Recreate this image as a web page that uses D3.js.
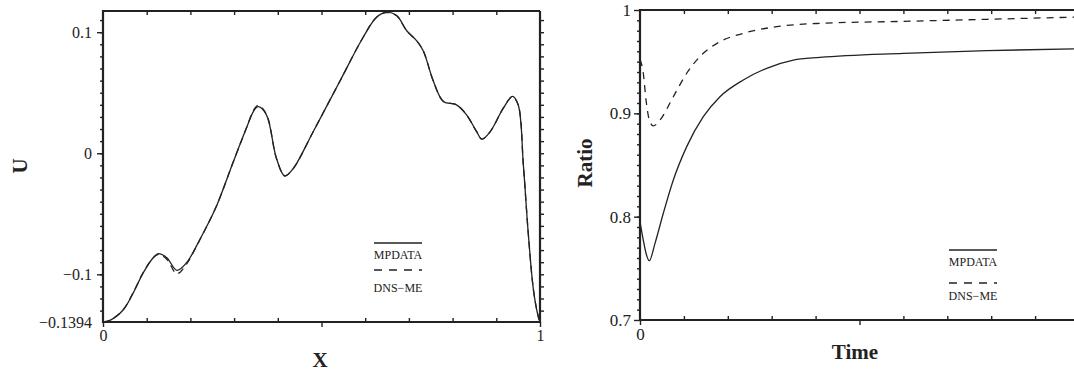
<!DOCTYPE html>
<html><head><meta charset="utf-8">
<script src="https://cdn.jsdelivr.net/npm/d3@7"></script>
<style>
body{margin:0;background:#fff;}
svg{display:block;}
text{font-family:"Liberation Serif","Times New Roman",serif !important;fill:#222;}
</style></head>
<body><svg id="c" width="1074" height="373"></svg>
<script>
// ---- Left panel data: U vs X ----
const xLeft = [0,0.016,0.046,0.069,0.092,0.115,0.127,0.146,0.169,0.191,0.222,0.26,0.298,0.328,0.345,0.355,0.374,0.397,0.416,0.435,0.481,0.542,0.595,0.626,0.649,0.672,0.695,0.718,0.733,0.756,0.779,0.809,0.832,0.855,0.867,0.886,0.916,0.937,0.95,0.962,0.973,0.985,0.996,1.0];
const uMPDATA = [-0.1394,-0.138,-0.1295,-0.1155,-0.0988,-0.0863,-0.083,-0.0863,-0.0967,-0.0905,-0.071,-0.0433,-0.0072,0.0206,0.035,0.0385,0.0317,-0.0044,-0.0188,-0.0128,0.0178,0.0595,0.0956,0.1123,0.1165,0.1137,0.1012,0.0928,0.0845,0.0595,0.0428,0.040,0.0317,0.0178,0.0117,0.0178,0.0372,0.047,0.040,-0.010,-0.0655,-0.1128,-0.135,-0.1394];
const uDNSME = [-0.1394,-0.138,-0.1293,-0.1152,-0.0985,-0.0862,-0.0835,-0.0875,-0.0995,-0.0915,-0.0712,-0.0433,-0.0072,0.0206,0.0358,0.0395,0.0322,-0.0044,-0.0186,-0.0128,0.0178,0.0595,0.0956,0.1123,0.1162,0.1135,0.1012,0.0928,0.0845,0.0595,0.0428,0.040,0.0317,0.0178,0.0117,0.0178,0.0372,0.0468,0.040,-0.010,-0.0655,-0.1128,-0.135,-0.1394];
const uTickLabels = [0.1, 0, -0.1, -0.1394];
const xTickLabels = [0, 1];

// ---- Right panel data: Ratio vs Time ----
const tSolid = [0,0.075,0.137,0.212,0.342,0.531,0.759,1.064,1.442,1.822,2.353,2.886,3.492,4.1,6.0,7.9,10];
const rMPDATA = [0.795,0.7774,0.7646,0.7574,0.7742,0.8033,0.8355,0.8678,0.8968,0.9161,0.9323,0.9436,0.9516,0.9542,0.9581,0.9607,0.9625];
const tDashed = [0,0.075,0.137,0.212,0.303,0.456,0.759,1.064,1.442,1.822,2.353,3.114,4.1,6.0,7.9,10];
const rDNSME = [0.952,0.9388,0.913,0.8936,0.8878,0.8936,0.9161,0.9388,0.9581,0.9694,0.9774,0.9839,0.9871,0.989,0.991,0.9932];
const ratioTickLabels = [1, 0.9, 0.8, 0.7];
const timeTickLabels = [0];

const legendNames = ["MPDATA", "DNS\u2212ME"];

const FONT = '"Liberation Serif","Times New Roman",serif';
const svg = d3.select("#c");
const ink = "#222";

function fmt(v){ return v === 0 ? "0" : (v < 0 ? "\u2212" + String(Math.abs(v)) : String(v)); }

function panel(cfg){
  const {x, y, g} = cfg;
  const [x0, x1] = x.range(); const [y0, y1] = y.range();
  cfg.series.forEach(s => {
    const line = d3.line().x(d => x(d[0])).y(d => y(d[1])).curve(cfg.curve);
    g.append("path").attr("d", line(d3.zip(s.xs, s.ys)))
      .attr("fill","none").attr("stroke",ink).attr("stroke-width",1.3)
      .attr("stroke-dasharray", s.dash || null);
  });
  function ticks(axisFn, scale, vals, size, pos){
    const a = g.append("g").attr("transform", pos)
      .call(axisFn(scale).tickValues(vals).tickSize(size).tickFormat(""));
    a.select(".domain").remove();
    a.selectAll("line").attr("stroke",ink).attr("stroke-width",1.4);
  }
  ticks(d3.axisLeft, y, cfg.yMinor, 3, `translate(${x0},0)`);
  ticks(d3.axisLeft, y, cfg.yMajor, 6, `translate(${x0},0)`);
  ticks(d3.axisLeft, y, cfg.yRight, cfg.yRightSize, `translate(${cfg.xRight},0)`);
  ticks(d3.axisTop, x, cfg.xMinor, 4, `translate(0,${y0})`);
  ticks(d3.axisBottom, x, cfg.xMajor, 5, `translate(0,${y0})`);
  ticks(d3.axisBottom, x, cfg.xTop, 4, `translate(0,${y1})`);
  g.append("path").attr("d", `M${cfg.xRight},${y1}H${x0}V${y0}H${cfg.xRight}V${y1}`)
    .attr("fill","none").attr("stroke",ink).attr("stroke-width",2.2);
  const yl = g.append("g").attr("transform",`translate(${x0},0)`)
    .call(d3.axisLeft(y).tickValues(cfg.yLabels).tickSize(0).tickPadding(cfg.yPad).tickFormat(fmt))
    .attr("font-family", FONT);
  yl.select(".domain").remove();
  yl.selectAll("text").style("font-size", cfg.fs + "px").style("font-family", FONT).attr("fill", ink);
  const xl = g.append("g").attr("transform",`translate(0,${y0})`)
    .call(d3.axisBottom(x).tickValues(cfg.xLabels).tickSize(0).tickPadding(cfg.xPad).tickFormat(fmt))
    .attr("font-family", FONT);
  xl.select(".domain").remove();
  xl.selectAll("text").style("font-size", cfg.fs + "px").style("font-family", FONT).attr("fill", ink);
  g.append("text").attr("x", cfg.xt[0]).attr("y", cfg.xt[1]).attr("text-anchor","middle")
    .style("font-family", FONT).style("font-size","21px").style("font-weight","bold").text(cfg.xTitle);
  g.append("text").attr("transform",`translate(${cfg.yt[0]},${cfg.yt[1]}) rotate(-90)`).attr("text-anchor","middle")
    .style("font-family", FONT).style("font-size","21px").style("font-weight","bold").text(cfg.yTitle);
  const L = cfg.legend;
  g.append("line").attr("x1",L.x).attr("x2",L.x+L.w).attr("y1",L.y1).attr("y2",L.y1).attr("stroke",ink).attr("stroke-width",1.3);
  g.append("text").attr("x",L.x+L.w/2).attr("y",L.t1).attr("text-anchor","middle").style("font-family", FONT).style("font-size","12px").text(legendNames[0]);
  g.append("line").attr("x1",L.x).attr("x2",L.x+L.w).attr("y1",L.y2).attr("y2",L.y2).attr("stroke",ink).attr("stroke-width",1.3).attr("stroke-dasharray","8,7");
  g.append("text").attr("x",L.x+L.w/2).attr("y",L.t2).attr("text-anchor","middle").style("font-family", FONT).style("font-size","12px").text(legendNames[1]);
}

const xL = d3.scaleLinear().domain([0,1]).range([103,540]);
const yL = d3.scaleLinear().domain([-0.1394,0.1175]).range([322,11]);
const rng = (a,b,s) => d3.range(Math.round(a/s), Math.round(b/s)+1).map(i => +(i*s).toFixed(4));
panel({
  g: svg.append("g"), x: xL, y: yL, curve: d3.curveCatmullRom.alpha(0.5),
  series: [{xs:xLeft, ys:uMPDATA}, {xs:xLeft, ys:uDNSME, dash:"7,5"}],
  yMinor: rng(-0.13,0.11,0.01), yMajor: [-0.1,0,0.1],
  yRight: rng(-0.13,0.11,0.01), yRightSize: -4, xRight: 540,
  xMinor: rng(0.1,0.9,0.1).filter(v=>v!==0.5), xMajor: [0,0.5,1], xTop: rng(0.1,0.9,0.1),
  yLabels: uTickLabels, xLabels: xTickLabels, fs: 16, yPad: 11, xPad: 8,
  xTitle: "X", xt: [320, 367], yTitle: "U", yt: [27, 166],
  legend: {x:374, w:48, y1:243, t1:259, y2:270, t2:292}
});

const xR = d3.scaleLinear().domain([0,10]).range([640,1079]);
const yR = d3.scaleLinear().domain([0.7,1]).range([320,10]);
panel({
  g: svg.append("g"), x: xR, y: yR, curve: d3.curveMonotoneX,
  series: [{xs:tSolid, ys:rMPDATA}, {xs:tDashed, ys:rDNSME, dash:"7,6"}],
  yMinor: rng(0.71,0.99,0.01), yMajor: [0.7,0.8,0.9,1],
  yRight: [0.75,0.8,0.85,0.9,0.95], yRightSize: -5, xRight: 1078,
  xMinor: rng(1,9,1).filter(v=>v!==5), xMajor: [0,5,10], xTop: rng(1,9,1),
  yLabels: ratioTickLabels, xLabels: timeTickLabels, fs: 17, yPad: 9, xPad: 8,
  xTitle: "Time", xt: [855, 359], yTitle: "Ratio", yt: [592, 163],
  legend: {x:949, w:48, y1:250, t1:266, y2:283, t2:300}
});
</script></body></html>
